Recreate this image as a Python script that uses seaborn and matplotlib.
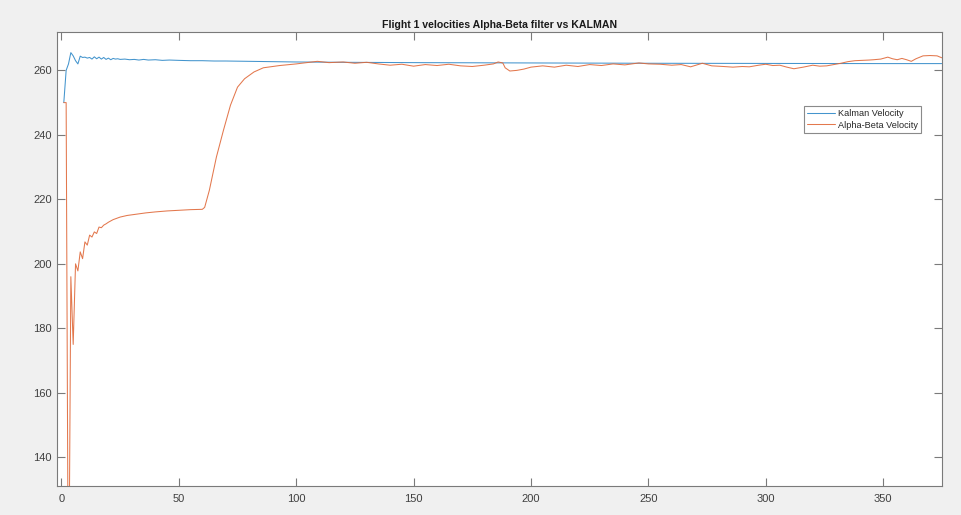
import matplotlib
matplotlib.use("Agg")
import matplotlib.pyplot as plt
import seaborn as sns
import pandas as pd

# ---- data ----
kalman_x = [1, 2, 3, 4, 5, 6, 7, 8, 9, 10, 11, 12, 13, 14, 15, 16, 17, 18, 19, 20,
            21, 22, 23, 24, 25, 27, 29, 31, 33, 35, 37, 40, 43, 46, 50, 55, 60, 65,
            70, 80, 90, 100, 120, 150, 200, 250, 300, 350, 375]
kalman_y = [250, 260, 262, 265.5, 264.5, 263, 262, 264.4, 264, 264.1, 263.8, 264,
            263.5, 264.2, 263.6, 264.1, 263.5, 264, 263.4, 263.8, 263.3, 263.7, 263.5,
            263.6, 263.4, 263.5, 263.3, 263.4, 263.2, 263.4, 263.2, 263.3, 263.1, 263.2,
            263.1, 263.0, 263.0, 262.9, 262.9, 262.8, 262.7, 262.6, 262.5, 262.4, 262.3,
            262.2, 262.15, 262.1, 262.1]

ab_x = [1, 2, 3, 4, 5, 6, 7, 8, 9, 10, 11, 12, 13, 14, 15, 16, 17, 18, 19, 20, 22,
        25, 28, 32, 36, 40, 45, 50, 55, 60, 61, 63, 66, 69, 72, 75, 78, 82, 86, 93,
        100, 109, 114, 120, 125, 130, 135, 140, 145, 150, 155, 160, 165, 170, 175,
        180, 184, 186, 188, 189, 191, 194, 197, 200, 205, 210, 215, 220, 225, 230,
        235, 240, 246, 250, 255, 260, 264, 268, 273, 277, 282, 286, 290, 293, 297,
        300, 303, 306, 309, 312, 316, 320, 323, 326, 329, 332, 335, 338, 341, 344,
        346, 349, 352, 354, 356, 358, 360, 362, 364, 367, 370, 373, 375]
ab_y = [250, 250, 80, 196, 175, 200, 197.8, 203.7, 201.6, 206.8, 205.8, 208.9, 208.3,
        209.9, 209.4, 211.4, 211.2, 212, 212.4, 212.9, 213.7, 214.5, 215, 215.4, 215.8,
        216.1, 216.4, 216.6, 216.8, 216.9, 217.5, 222.8, 233.1, 241.4, 249.2, 254.8,
        257.4, 259.5, 260.8, 261.5, 262, 262.8, 262.4, 262.6, 262.2, 262.5, 262.0,
        261.6, 261.9, 261.3, 261.8, 261.5, 261.9, 261.4, 261.2, 261.6, 262.0, 262.6,
        262.3, 260.8, 259.8, 260.0, 260.4, 261.0, 261.4, 261.0, 261.6, 261.2, 261.8,
        261.5, 262.0, 261.7, 262.3, 262.0, 261.9, 261.6, 261.8, 261.1, 262.2, 261.4,
        261.2, 261.0, 261.2, 261.1, 261.6, 261.9, 261.5, 261.6, 261.0, 260.5, 261.0,
        261.6, 261.3, 261.4, 261.8, 262.2, 262.7, 263.0, 263.1, 263.2, 263.3, 263.5,
        264.1, 263.6, 263.3, 263.7, 263.3, 262.8, 263.6, 264.5, 264.6, 264.5, 263.9]

x_ticks = [0, 50, 100, 150, 200, 250, 300, 350]
y_ticks = [140, 160, 180, 200, 220, 240, 260]
title = "Flight 1 velocities Alpha-Beta filter vs KALMAN"
labels = ["Kalman Velocity", "Alpha-Beta Velocity"]

# ---- style ----
sns.set_style("ticks")
plt.rcParams["font.family"] = ["Liberation Sans", "DejaVu Sans"]

fig = plt.figure(figsize=(9.62, 5.15), dpi=100, facecolor="#f0f0f0")
ax = fig.add_axes([0.059, 0.057, 0.920, 0.8815])
ax.set_facecolor("white")

df_k = pd.DataFrame({"x": kalman_x, "y": kalman_y})
df_a = pd.DataFrame({"x": ab_x, "y": ab_y})
sns.lineplot(data=df_k, x="x", y="y", ax=ax, color="#2f89c8", lw=0.75, alpha=0.9,
             label=labels[0], sort=False)
sns.lineplot(data=df_a, x="x", y="y", ax=ax, color="#e0693a", lw=0.75, alpha=0.9,
             label=labels[1], sort=False)

ax.set_xlim(-2, 375)
ax.set_ylim(131.2, 272)
ax.set_xticks(x_ticks)
ax.set_yticks(y_ticks)
ax.set_xlabel("")
ax.set_ylabel("")

spine_c = "#7a7a7a"
for s in ax.spines.values():
    s.set_visible(True)
    s.set_color(spine_c)
    s.set_linewidth(0.8)
ax.tick_params(direction="in", length=6, width=0.8, color=spine_c,
               top=True, right=True, labelsize=8, labelcolor="#404040")
ax.tick_params(axis="y", pad=3.5)
ax.tick_params(axis="x", pad=6)

ax.set_title(title, fontsize=7.6, fontweight="bold", color="#1a1a1a", pad=2.5)

leg = ax.legend(loc="upper right", bbox_to_anchor=(0.9766, 0.836), fontsize=6.6,
                frameon=True, fancybox=False, framealpha=1, edgecolor="#8a8a8a",
                handlelength=3.1, borderpad=0.35, labelspacing=0.25, handletextpad=0.3,
                borderaxespad=0)
leg.get_frame().set_linewidth(0.8)
for t in leg.get_texts():
    t.set_color("#262626")

fig.savefig("out.png", dpi=100, facecolor=fig.get_facecolor())
